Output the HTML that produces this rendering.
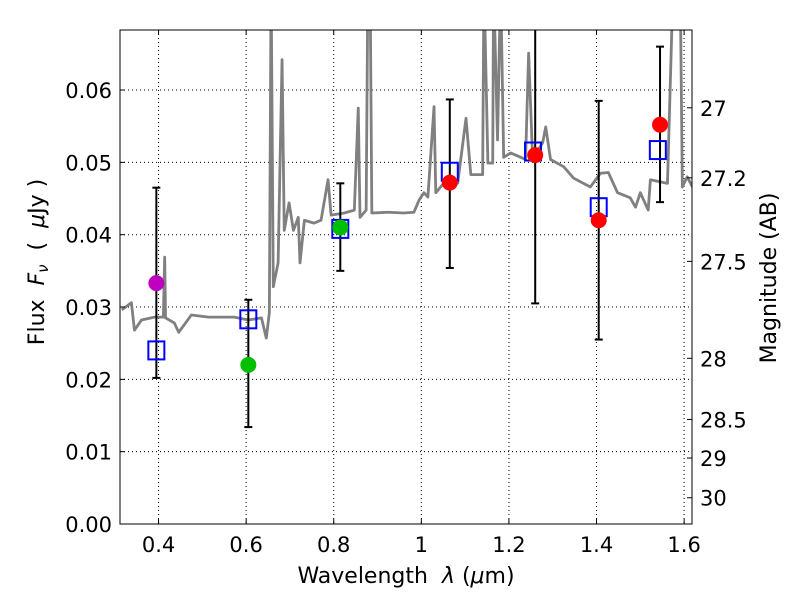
<!DOCTYPE html>
<html><head><meta charset="utf-8"><style>
body{margin:0;background:#fff;}
svg text{font-family:"DejaVu Sans","Liberation Sans",sans-serif;}
</style></head><body>
<svg id="chart" width="800" height="600" xmlns="http://www.w3.org/2000/svg">
<rect width="800" height="600" fill="#fff"/>
<defs><clipPath id="pc"><rect x="120" y="30" width="572" height="494"/></clipPath></defs>
<g id="grid"></g>
<g id="spec" clip-path="url(#pc)"></g>
<g id="marks" clip-path="url(#pc)"></g>
<rect x="120" y="30" width="572" height="494" fill="none" stroke="#000" stroke-width="1"/>
<g id="axes"></g>
<text x="406" y="583" font-size="22" text-anchor="middle">Wavelength&#160;&#160;<tspan font-style="italic">λ</tspan> (<tspan font-style="italic">μ</tspan>m)</text>
<text transform="translate(44,262) rotate(-90)" font-size="22" text-anchor="middle">Flux&#160;&#160;<tspan font-style="italic">F<tspan font-size="15" dy="4">ν</tspan></tspan><tspan dy="-4">&#160;&#160;(&#160;&#160;</tspan><tspan font-style="italic">μ</tspan>Jy )</text>
<text transform="translate(776,278) rotate(-90)" font-size="22" text-anchor="middle">Magnitude (AB)</text>
</svg>
<script>
const xTicks=[0.4,0.6,0.8,1.0,1.2,1.4,1.6];
const xTickLabels=["0.4","0.6","0.8","1","1.2","1.4","1.6"];
const yTicks=[0,0.01,0.02,0.03,0.04,0.05,0.06];
const yTickLabels=["0.00","0.01","0.02","0.03","0.04","0.05","0.06"];
const magTicks=[27,27.2,27.5,28,28.5,29,30];
const magTickLabels=["27","27.2","27.5","28","28.5","29","30"];
const specWave=[0.316,0.338,0.345,0.361,0.391,0.411,0.414,0.416,0.436,0.446,0.475,0.514,0.544,0.573,0.605,0.635,0.646,0.653,0.657,0.662,0.673,0.682,0.687,0.698,0.708,0.719,0.723,0.733,0.755,0.771,0.787,0.794,0.824,0.847,0.856,0.860,0.874,0.878,0.883,0.887,0.924,0.960,0.983,0.995,1.006,1.015,1.029,1.033,1.051,1.083,1.102,1.113,1.140,1.143,1.152,1.163,1.165,1.174,1.181,1.188,1.204,1.227,1.238,1.245,1.254,1.277,1.284,1.295,1.325,1.348,1.386,1.409,1.427,1.448,1.477,1.489,1.500,1.518,1.523,1.562,1.575,1.591,1.596,1.607,1.619];
const specFlux=[0.0296,0.0306,0.0268,0.0282,0.0286,0.0286,0.0369,0.0285,0.0278,0.0265,0.0289,0.0286,0.0286,0.0286,0.0282,0.0285,0.0257,0.0292,0.075,0.0328,0.0361,0.0642,0.0406,0.0444,0.0406,0.0424,0.0361,0.0420,0.0416,0.0420,0.0476,0.0427,0.0430,0.0434,0.0575,0.0424,0.0434,0.075,0.075,0.0430,0.0431,0.0430,0.0431,0.0448,0.0458,0.0452,0.0577,0.0458,0.0471,0.0471,0.0561,0.0483,0.0483,0.075,0.0499,0.0499,0.075,0.0531,0.075,0.0507,0.0513,0.0507,0.0504,0.0651,0.0506,0.0527,0.0549,0.0504,0.0494,0.0478,0.0466,0.0485,0.0486,0.0458,0.0451,0.0438,0.0458,0.0434,0.0476,0.0471,0.075,0.075,0.0466,0.0480,0.0466];
const bandWave=[0.395,0.605,0.815,1.065,1.255,1.405,1.54];
const modelFlux=[0.0240,0.0283,0.0408,0.0487,0.0515,0.0438,0.0517];
const obsWave=[0.395,0.605,0.815,1.065,1.26,1.405,1.545];
const obsFlux=[0.0333,0.0220,0.0410,0.0472,0.0510,0.0420,0.0552];
const obsLow=[0.0202,0.0134,0.0350,0.0354,0.0305,0.0255,0.0445];
const obsHigh=[0.0465,0.0310,0.0471,0.0587,0.0700,0.0585,0.0660];
const obsColor=["#bf00bf","#00bf00","#00bf00","#ff0000","#ff0000","#ff0000","#ff0000"];

const NS="http://www.w3.org/2000/svg";
const X0=120,X1=692,Y0=524,Y1=30,XMIN=0.312,XMAX=1.618,YMIN=0,YMAX=0.0683;
const sx=v=>X0+(v-XMIN)/(XMAX-XMIN)*(X1-X0);
const sy=v=>Y0-(v-YMIN)/(YMAX-YMIN)*(Y0-Y1);
const mag2flux=m=>Math.pow(10,(23.9-m)/2.5);
function mk(tag,attrs,parent){const e=document.createElementNS(NS,tag);for(const k in attrs)e.setAttribute(k,attrs[k]);parent.appendChild(e);return e;}
const grid=document.getElementById('grid'),axes=document.getElementById('axes'),spec=document.getElementById('spec'),marks=document.getElementById('marks');
xTicks.forEach((t,i)=>{const x=sx(t);
 const g=mk('line',{x1:x,x2:x,y1:Y1,y2:Y0,stroke:'#000','stroke-dasharray':'1,3','stroke-width':1},grid);
 
 
 mk('line',{x1:x,x2:x,y1:Y0,y2:Y0-5,stroke:'#000'},axes);
 mk('line',{x1:x,x2:x,y1:Y1,y2:Y1+5,stroke:'#000'},axes);
 const tx=mk('text',{x:x,y:Y0+28,'font-size':21,'text-anchor':'middle'},axes);tx.textContent=xTickLabels[i];
 
 
});
yTicks.forEach((t,i)=>{const y=sy(t);
 const g=mk('line',{x1:X0,x2:X1,y1:y,y2:y,stroke:'#000','stroke-dasharray':'1,3','stroke-width':1},grid);
 
 
 mk('line',{x1:X0,x2:X0+5,y1:y,y2:y,stroke:'#000'},axes);
 const tx=mk('text',{x:X0-8,y:y+8,'font-size':21,'text-anchor':'end'},axes);tx.textContent=yTickLabels[i];
 
 
});
magTicks.forEach((m,i)=>{const y=sy(mag2flux(m));
 mk('line',{x1:X1,x2:X1-5,y1:y,y2:y,stroke:'#000'},axes);
 const tx=mk('text',{x:X1+8,y:y+8,'font-size':21},axes);tx.textContent=magTickLabels[i];
 
 
});
const pl=mk('polyline',{points:specWave.map((w,i)=>sx(w)+','+sy(specFlux[i])).join(' '),fill:'none',stroke:'#808080','stroke-width':2.8,'stroke-linejoin':'round'},spec);


obsWave.forEach((w,i)=>{const x=sx(w);
 const e=mk('line',{x1:x,x2:x,y1:sy(obsLow[i]),y2:sy(obsHigh[i]),stroke:'#000','stroke-width':2},marks);
 
 
 [obsLow[i],obsHigh[i]].forEach(v=>mk('line',{x1:x-4,x2:x+4,y1:sy(v),y2:sy(v),stroke:'#000','stroke-width':2},marks));
});
bandWave.forEach((w,i)=>{
 const r=mk('rect',{x:sx(w)-8,y:sy(modelFlux[i])-9,width:16,height:18,fill:'none',stroke:'#0000ff','stroke-width':2},marks);
 
 
});
obsWave.forEach((w,i)=>{
 const c=mk('circle',{cx:sx(w),cy:sy(obsFlux[i]),r:8,fill:obsColor[i]},marks);
 
 
});
</script>
</body></html>
